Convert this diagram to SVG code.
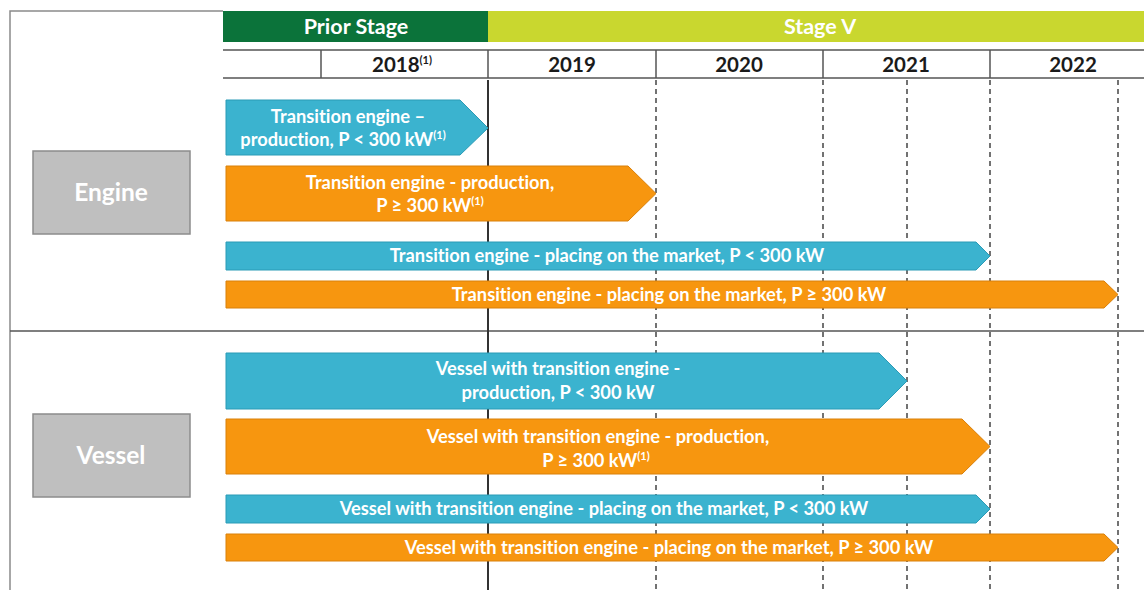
<svg xmlns="http://www.w3.org/2000/svg" width="1144" height="590" viewBox="0 0 1144 590">
<style>
text{font-variant-ligatures:none;font-feature-settings:"liga" 0}
.frame{stroke:#8a8a8a;stroke-width:1.5;fill:none}
.grid{stroke:#555;stroke-width:1.5;fill:none}
.dash{stroke:#444;stroke-width:1.5;stroke-dasharray:5 4;fill:none}
.cy{fill:#3bb3cf;stroke:#2b9bb6;stroke-width:1}
.or{fill:#f7960f;stroke:#d9800a;stroke-width:1}
.lbl{font-family:Lato,"Liberation Sans",sans-serif;font-weight:bold;font-size:18.3px;fill:#fff;text-anchor:middle}
.yr{font-family:Lato,"Liberation Sans",sans-serif;font-weight:bold;font-size:20.5px;fill:#1a1a1a;text-anchor:middle}
.hd{font-family:Lato,"Liberation Sans",sans-serif;font-weight:bold;font-size:21.5px;fill:#fff;text-anchor:middle}
.cat{fill:#bfbfbf;stroke:#8c8c8c;stroke-width:1.5}
.catt{font-family:Lato,"Liberation Sans",sans-serif;font-weight:bold;font-size:24.5px;fill:#fff;text-anchor:middle}
.sup{font-size:11px}
</style>
<rect width="1144" height="590" fill="#fff"/>
<g id="frame">
<path class="frame" d="M10,590 V11 H223"/>
<line class="grid" x1="10" y1="331" x2="1144" y2="331"/>
</g>
<g id="header">
<rect x="223" y="11" width="265" height="31" fill="#0b733a"/>
<rect x="488" y="11" width="656" height="31" fill="#c9d72f"/>
<text class="hd" x="356" y="34">Prior Stage</text>
<text class="hd" x="820" y="34">Stage V</text>
<line class="grid" x1="223" y1="50" x2="1144" y2="50"/>
<line class="grid" x1="223" y1="78" x2="1144" y2="78"/>
<line class="grid" x1="321" y1="50" x2="321" y2="78"/>
<line class="grid" x1="488" y1="50" x2="488" y2="78"/>
<line class="grid" x1="656" y1="50" x2="656" y2="78"/>
<line class="grid" x1="823" y1="50" x2="823" y2="78"/>
<line class="grid" x1="990" y1="50" x2="990" y2="78"/>
<text class="yr" x="402" y="72">2018<tspan class="sup" dy="-8">(1)</tspan></text>
<text class="yr" x="572" y="72">2019</text>
<text class="yr" x="739" y="72">2020</text>
<text class="yr" x="906" y="72">2021</text>
<text class="yr" x="1073" y="72">2022</text>
</g>
<g id="timeline-lines">
<line x1="488" y1="80" x2="488" y2="590" stroke="#333" stroke-width="2"/>
<line class="dash" x1="656" y1="80" x2="656" y2="590"/>
<line class="dash" x1="823" y1="80" x2="823" y2="590"/>
<line class="dash" x1="907" y1="80" x2="907" y2="590"/>
<line class="dash" x1="990" y1="80" x2="990" y2="590"/>
<line class="dash" x1="1118" y1="80" x2="1118" y2="590"/>
</g>
<g id="engine">
<rect class="cat" x="33" y="151" width="157" height="83"/>
<text class="catt" x="111" y="201">Engine</text>
</g>
<g id="vessel">
<rect class="cat" x="33" y="414" width="157" height="83"/>
<text class="catt" x="111" y="464">Vessel</text>
</g>
<g id="bar1">
<path class="cy" d="M226,100 H460 L488,128 L460,155 H226 Z"/>
<text class="lbl" x="348" y="123">Transition engine –</text>
<text class="lbl" x="343" y="146">production, P &lt; 300 kW<tspan class="sup" dy="-7">(1)</tspan></text>
</g>
<g id="bar2">
<path class="or" d="M226,166 H628 L656,193.5 L628,221 H226 Z"/>
<text class="lbl" x="430" y="189">Transition engine - production,</text>
<text class="lbl" x="430" y="212">P ≥ 300 kW<tspan class="sup" dy="-7">(1)</tspan></text>
</g>
<g id="bar3">
<path class="cy" d="M226,242 H976 L990,256 L976,270 H226 Z"/>
<text class="lbl" x="607" y="262">Transition engine - placing on the market, P &lt; 300 kW</text>
</g>
<g id="bar4">
<path class="or" d="M226,281 H1104 L1118,294.5 L1104,308 H226 Z"/>
<text class="lbl" x="669" y="301">Transition engine - placing on the market, P ≥ 300 kW</text>
</g>
<g id="bar5">
<path class="cy" d="M226,353 H879 L907,381 L879,409 H226 Z"/>
<text class="lbl" x="558" y="375">Vessel with transition engine -</text>
<text class="lbl" x="558" y="399">production, P &lt; 300 kW</text>
</g>
<g id="bar6">
<path class="or" d="M226,419 H962 L990,446.5 L962,474 H226 Z"/>
<text class="lbl" x="598" y="443">Vessel with transition engine - production,</text>
<text class="lbl" x="596" y="467">P ≥ 300 kW<tspan class="sup" dy="-7">(1)</tspan></text>
</g>
<g id="bar7">
<path class="cy" d="M226,495 H976 L990,509 L976,523 H226 Z"/>
<text class="lbl" x="604" y="515">Vessel with transition engine - placing on the market, P &lt; 300 kW</text>
</g>
<g id="bar8">
<path class="or" d="M226,534 H1104 L1118,547.5 L1104,561 H226 Z"/>
<text class="lbl" x="669" y="554">Vessel with transition engine - placing on the market, P ≥ 300 kW</text>
</g>
</svg>
